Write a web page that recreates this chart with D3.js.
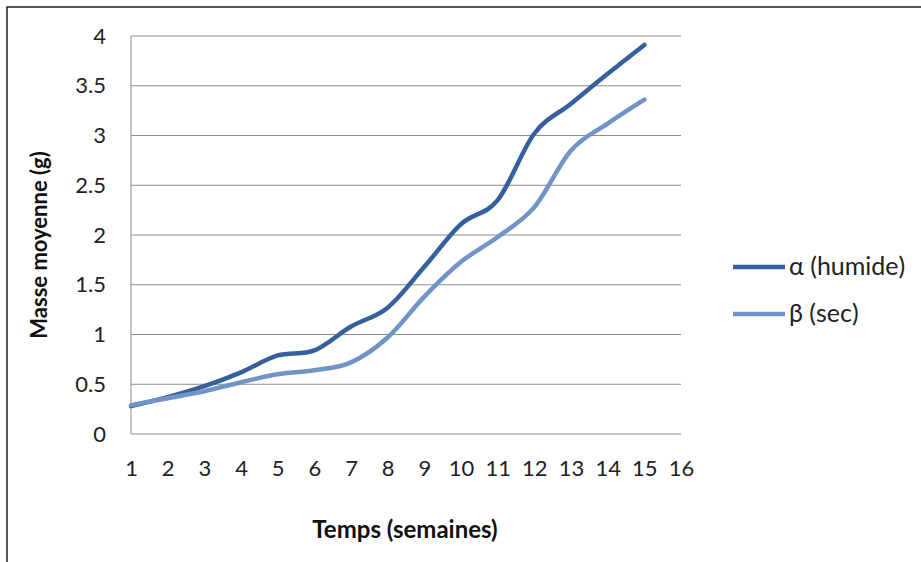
<!DOCTYPE html>
<html>
<head>
<meta charset="utf-8">
<script src="https://cdn.jsdelivr.net/npm/d3@7"></script>
<style>
  html, body { margin: 0; padding: 0; background: #fff; }
  svg { display: block; }
</style>
</head>
<body>
<svg id="chart" width="921" height="562"></svg>
<script>
const weeks = [1, 2, 3, 4, 5, 6, 7, 8, 9, 10, 11, 12, 13, 14, 15];
const alphaHumide = [0.28, 0.37, 0.48, 0.62, 0.79, 0.84, 1.08, 1.27, 1.68, 2.11, 2.35, 3.02, 3.32, 3.62, 3.91];
const betaSec = [0.29, 0.36, 0.43, 0.52, 0.60, 0.64, 0.72, 0.97, 1.38, 1.73, 1.98, 2.28, 2.85, 3.12, 3.36];
const xTicks = [1, 2, 3, 4, 5, 6, 7, 8, 9, 10, 11, 12, 13, 14, 15, 16];
const yTicks = [0, 0.5, 1, 1.5, 2, 2.5, 3, 3.5, 4];
const seriesNames = ["α (humide)", "β (sec)"];
const seriesColors = ["#36609b", "#7194c7"];

const svg = d3.select("#chart");
const font = "Lato, 'Open Sans', sans-serif";

// outer frame
svg.append("path")
  .attr("d", "M7,562 L7,7 L921,7")
  .attr("fill", "none").attr("stroke", "#222").attr("stroke-width", 1.5);

const x = d3.scaleLinear().domain([1, 16]).range([131, 681]);
const y = d3.scaleLinear().domain([0, 4]).range([434, 36]);

// gridlines
svg.append("g").selectAll("line").data(yTicks).join("line")
  .attr("x1", x(1)).attr("x2", x(16))
  .attr("y1", d => y(d)).attr("y2", d => y(d))
  .attr("stroke", "#8c8c8c").attr("stroke-width", 1);
// left axis line
svg.append("line").attr("x1", x(1)).attr("x2", x(1)).attr("y1", y(0)).attr("y2", y(4))
  .attr("stroke", "#8c8c8c").attr("stroke-width", 1);

// y axis labels
const yAxis = d3.axisLeft(y).tickValues(yTicks).tickSize(0).tickPadding(25)
  .tickFormat(d => String(d));
const gy = svg.append("g").attr("transform", `translate(${x(1)},0)`).call(yAxis);
gy.select(".domain").remove();
gy.selectAll("text").attr("font-family", font).attr("font-size", 22).attr("fill", "#222");

// x axis labels
const xAxis = d3.axisBottom(x).tickValues(xTicks).tickSize(0).tickPadding(26)
  .tickFormat(d => String(d));
const gx = svg.append("g").attr("transform", `translate(0,${y(0)})`).call(xAxis);
gx.select(".domain").remove();
gx.selectAll("text").attr("font-family", font).attr("font-size", 22).attr("fill", "#222");

// axis titles
svg.append("text").attr("x", 405).attr("y", 538).attr("text-anchor", "middle")
  .attr("font-family", font).attr("font-weight", "bold").attr("font-size", 24).attr("fill", "#111")
  .text("Temps (semaines)");
svg.append("text").attr("transform", "translate(47,245) rotate(-90)").attr("text-anchor", "middle")
  .attr("font-family", font).attr("font-weight", "bold").attr("font-size", 22).attr("fill", "#111")
  .text("Masse moyenne (g)");

// lines
const line = d3.line().x((d, i) => x(weeks[i])).y(d => y(d)).curve(d3.curveCardinal.tension(0));
[alphaHumide, betaSec].forEach((s, i) => {
  svg.append("path").datum(s).attr("d", line)
    .attr("fill", "none").attr("stroke", seriesColors[i]).attr("stroke-width", 4.5)
    .attr("stroke-linecap", "round");
});

// legend
const legendLineY = [267, 314];
const legendTextY = [275, 322];
seriesNames.forEach((n, i) => {
  svg.append("line").attr("x1", 733).attr("x2", 785).attr("y1", legendLineY[i]).attr("y2", legendLineY[i])
    .attr("stroke", seriesColors[i]).attr("stroke-width", 4.5);
  svg.append("text").attr("x", 789).attr("y", legendTextY[i])
    .attr("font-family", font).attr("font-size", 25).attr("fill", "#222").text(n);
});
</script>
</body>
</html>
